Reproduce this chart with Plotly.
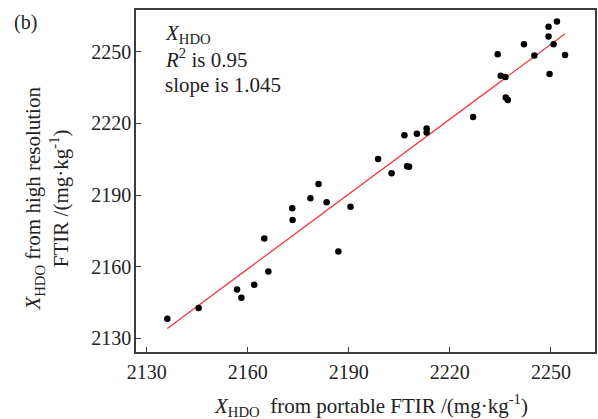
import plotly.graph_objects as go

# X_HDO from the portable FTIR (x) vs. the high-resolution FTIR (y), mg/kg
portable = [
    2136.1, 2145.4, 2156.8, 2158.1, 2161.9, 2164.9, 2166.1, 2173.2, 2173.3,
    2178.6, 2181.0, 2183.4, 2186.9, 2190.5, 2198.7, 2202.7, 2206.5, 2207.3,
    2207.9, 2210.2, 2213.1, 2213.1, 2226.9, 2234.2, 2235.1, 2236.5, 2236.6,
    2237.2, 2242.0, 2245.1, 2249.3, 2249.3, 2251.8, 2250.8, 2249.6, 2254.2,
]
high_res = [
    2138.2, 2142.7, 2150.5, 2147.0, 2152.5, 2171.8, 2158.0, 2184.5, 2179.6,
    2188.7, 2194.6, 2187.0, 2166.4, 2185.1, 2205.1, 2199.1, 2215.1, 2202.1,
    2201.9, 2215.7, 2217.9, 2216.2, 2222.7, 2249.0, 2240.0, 2239.4, 2230.9,
    2229.8, 2253.2, 2248.5, 2260.5, 2256.4, 2262.7, 2253.2, 2240.7, 2248.7,
]

# fitted line: slope and intercept
fit_slope = 1.045
fit_intercept = -98.1
r_squared = 0.95

tick_values = [2130, 2160, 2190, 2220, 2250]

FONT = "Liberation Serif"
TEXT = "#222222"
AXIS = "#3c3c3c"

fit_x = [min(portable), max(portable)]
fit_y = [fit_slope * v + fit_intercept for v in fit_x]

fig = go.Figure()
fig.add_trace(go.Scatter(
    x=fit_x, y=fit_y, mode="lines",
    line=dict(color="#ee3b45", width=1.3),
    hoverinfo="skip", showlegend=False,
))
fig.add_trace(go.Scatter(
    x=portable, y=high_res, mode="markers",
    marker=dict(color="black", size=6.5),
    showlegend=False,
))

axis_common = dict(
    tickvals=tick_values,
    ticktext=[str(v) for v in tick_values],
    ticks="inside", ticklen=5, tickwidth=1.2, tickcolor=AXIS,
    showline=True, linecolor=AXIS, linewidth=1.6, mirror=True,
    showgrid=False, zeroline=False,
    tickfont=dict(family=FONT, size=20, color=TEXT),
)


def note(text, x, y, size=21, **kw):
    return dict(text=text, xref="paper", yref="paper", x=x, y=y,
                showarrow=False, font=dict(family=FONT, size=size, color=TEXT),
                **kw)


# statistics block, one annotation per line
stats_lines = [
    "<i>X</i><sub>HDO</sub>",
    f"<i>R</i><sup>2</sup> is {r_squared}",
    f"slope is {fit_slope}",
]
stats_y = [0.929, 0.857, 0.780]

annotations = [
    note("(b)", -0.240, 0.963, size=20, xanchor="center", yanchor="middle"),
    note("<i>X</i><sub>HDO</sub> from high resolution<br>"
         "FTIR /(mg·kg<sup>-1</sup>)",
         -0.195, 0.45, xanchor="center", yanchor="middle", textangle=-90),
    note("<i>X</i><sub>HDO</sub>  from portable FTIR /(mg·kg<sup>-1</sup>)",
         0.513, -0.155, xanchor="center", yanchor="middle"),
]
for line, yy in zip(stats_lines, stats_y):
    annotations.append(note(line, 0.058, yy, xanchor="left", yanchor="middle"))

fig.update_layout(
    width=598, height=419,
    margin=dict(l=136, r=1, t=10, b=67),
    paper_bgcolor="white", plot_bgcolor="white",
    xaxis=dict(range=[2126.8, 2263.1], ticklabelstandoff=1, **axis_common),
    yaxis=dict(range=[2124.3, 2267.5], ticklabelstandoff=-1, **axis_common),
    font=dict(family=FONT, color=TEXT),
    annotations=annotations,
)

fig.write_html("out.html")
